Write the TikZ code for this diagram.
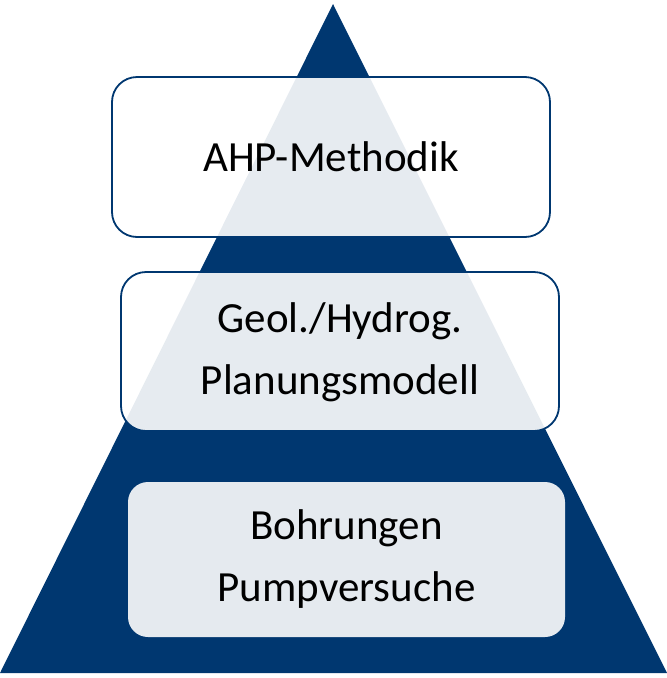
\documentclass[tikz,border=0pt]{standalone}
\usepackage{fontspec}
\setmainfont{Carlito}
\definecolor{darkblue}{RGB}{0,55,112}
\definecolor{lightbox}{RGB}{229,234,239}
\tikzset{
  lvlbox/.style={draw=darkblue, line width=1.8pt, fill=white, fill opacity=0.9, text opacity=1, rounded corners=25pt},
  basebox/.style={fill=lightbox, rounded corners=20pt},
  lbl/.style={font=\fontsize{43}{62}\selectfont, align=center, text=black}
}
\begin{document}
\begin{tikzpicture}[x=1pt,y=-1pt]
\useasboundingbox (0,0) rectangle (667,678);
\fill[darkblue] (333,4) -- (667,673) -- (0,673) -- cycle;
\path[lvlbox] (112,77) rectangle (550,237);
\node[lbl] (top) at (331,157) {AHP-Methodik};
\path[lvlbox] (121,272) rectangle (559,431);
\node[lbl] (mid) at (340,352) {Geol./Hydrog.\\Planungsmodell};
\path[basebox] (128,482) rectangle (565,637);
\node[lbl] (bot) at (346.5,559) {Bohrungen\\Pumpversuche};
\end{tikzpicture}
\end{document}
